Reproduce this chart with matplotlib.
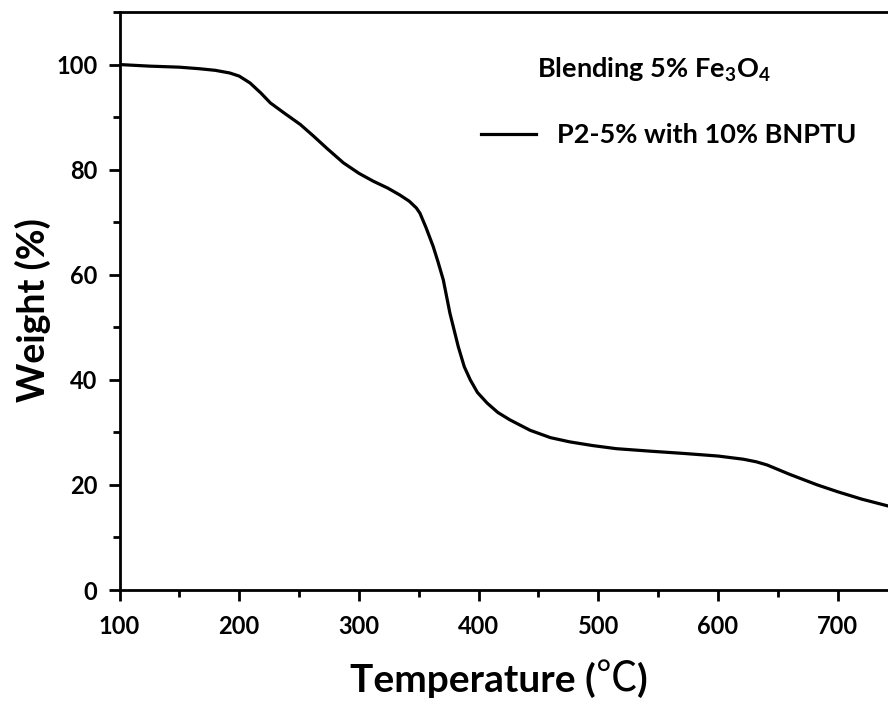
import matplotlib
matplotlib.use('Agg')
import matplotlib.pyplot as plt
from matplotlib.ticker import MultipleLocator
from matplotlib.lines import Line2D

plt.rcParams['font.family'] = ['Lato', 'Noto Sans CJK SC', 'DejaVu Sans']
plt.rcParams['font.weight'] = 'bold'
plt.rcParams['mathtext.fontset'] = 'custom'
plt.rcParams['mathtext.rm'] = 'Lato:bold'
plt.rcParams['mathtext.it'] = 'Lato:bold'
plt.rcParams['mathtext.bf'] = 'Lato:bold'

# TGA curve, weight remaining vs temperature
temperature = [100, 125, 150, 167, 180, 192, 200, 209, 218, 226, 238, 251,
               262, 273, 287, 300, 312, 324, 334, 342, 348, 351, 356, 362,
               366, 370.5, 376, 383, 388, 393, 399, 407, 416, 426, 443, 460,
               476, 495, 515, 545, 571, 600, 621, 632, 641, 660, 683, 700,
               720, 742, 760]
weight = [100, 99.7, 99.5, 99.2, 98.9, 98.4, 97.8, 96.5, 94.6, 92.7, 90.7, 88.6,
          86.4, 84.1, 81.3, 79.3, 77.8, 76.5, 75.2, 74.0, 72.7, 71.7, 69.0, 65.4,
          62.5, 59.0, 52.7, 46.3, 42.5, 40.0, 37.6, 35.6, 33.8, 32.4, 30.4, 29.0,
          28.2, 27.5, 26.9, 26.4, 26.0, 25.5, 24.9, 24.4, 23.8, 22.0, 20.0, 18.7,
          17.3, 16.0, 15.2]

x_ticks = [100, 200, 300, 400, 500, 600, 700]
series_label = 'P2-5% with 10% BNPTU'
title_text = r'Blending 5% Fe$_3$O$_4$'

fig = plt.figure(figsize=(8.88, 7.02), dpi=100)
# axes run past the right edge of the figure
ax = fig.add_axes([0.1346, 0.1595, 0.9436, 0.8234])

ax.plot(temperature, weight, color='black', linewidth=2.3,
        solid_joinstyle='round')

ax.set_xlim(100, 800)
ax.set_ylim(0, 110)
ax.set_xticks(x_ticks)
ax.set_xticks([t + 50 for t in x_ticks], minor=True)
ax.yaxis.set_major_locator(MultipleLocator(20))
ax.yaxis.set_minor_locator(MultipleLocator(10))
ax.tick_params(which='major', direction='out', length=8, width=2, labelsize=17)
ax.tick_params(axis='x', which='major', pad=10)
ax.tick_params(axis='y', which='major', pad=8)
ax.tick_params(which='minor', direction='out', length=5, width=2)
for lab in ax.get_xticklabels() + ax.get_yticklabels():
    lab.set_fontweight('bold')
for s in ax.spines.values():
    s.set_linewidth(2)

# x label built from pieces so the degree sign can use a CJK face
renderer = fig.canvas.get_renderer()
x0, y0 = 350 / 888, 1 - 680 / 702
t1 = fig.text(x0, y0, 'Temperature (', fontsize=28, fontweight='bold',
              ha='left', va='center')
w1 = t1.get_window_extent(renderer).width / fig.bbox.width
t2 = fig.text(x0 + w1, y0, '℃', fontsize=30, fontweight='light',
              family=['Noto Sans CJK SC'], ha='left', va='center')
w2 = t2.get_window_extent(renderer).width / fig.bbox.width
fig.text(x0 + w1 + w2, y0, ')', fontsize=28, fontweight='bold',
         ha='left', va='center')

fig.text(0.037, 0.558, 'Weight (%)', fontsize=27, fontweight='bold',
         ha='center', va='center', rotation=90)

fig.text(537 / 888, 1 - 70 / 702, title_text, fontsize=19.5,
         fontweight='bold', ha='left', va='center')

handle = Line2D([], [], color='black', linewidth=2.3)
ax.legend([handle], [series_label], loc='center left', frameon=False,
          bbox_to_anchor=(457 / 888, 1 - 135 / 702), bbox_transform=fig.transFigure,
          handlelength=2.0, handletextpad=0.8,
          prop={'size': 19.5, 'weight': 'bold'})

fig.savefig('out.png', dpi=100)
